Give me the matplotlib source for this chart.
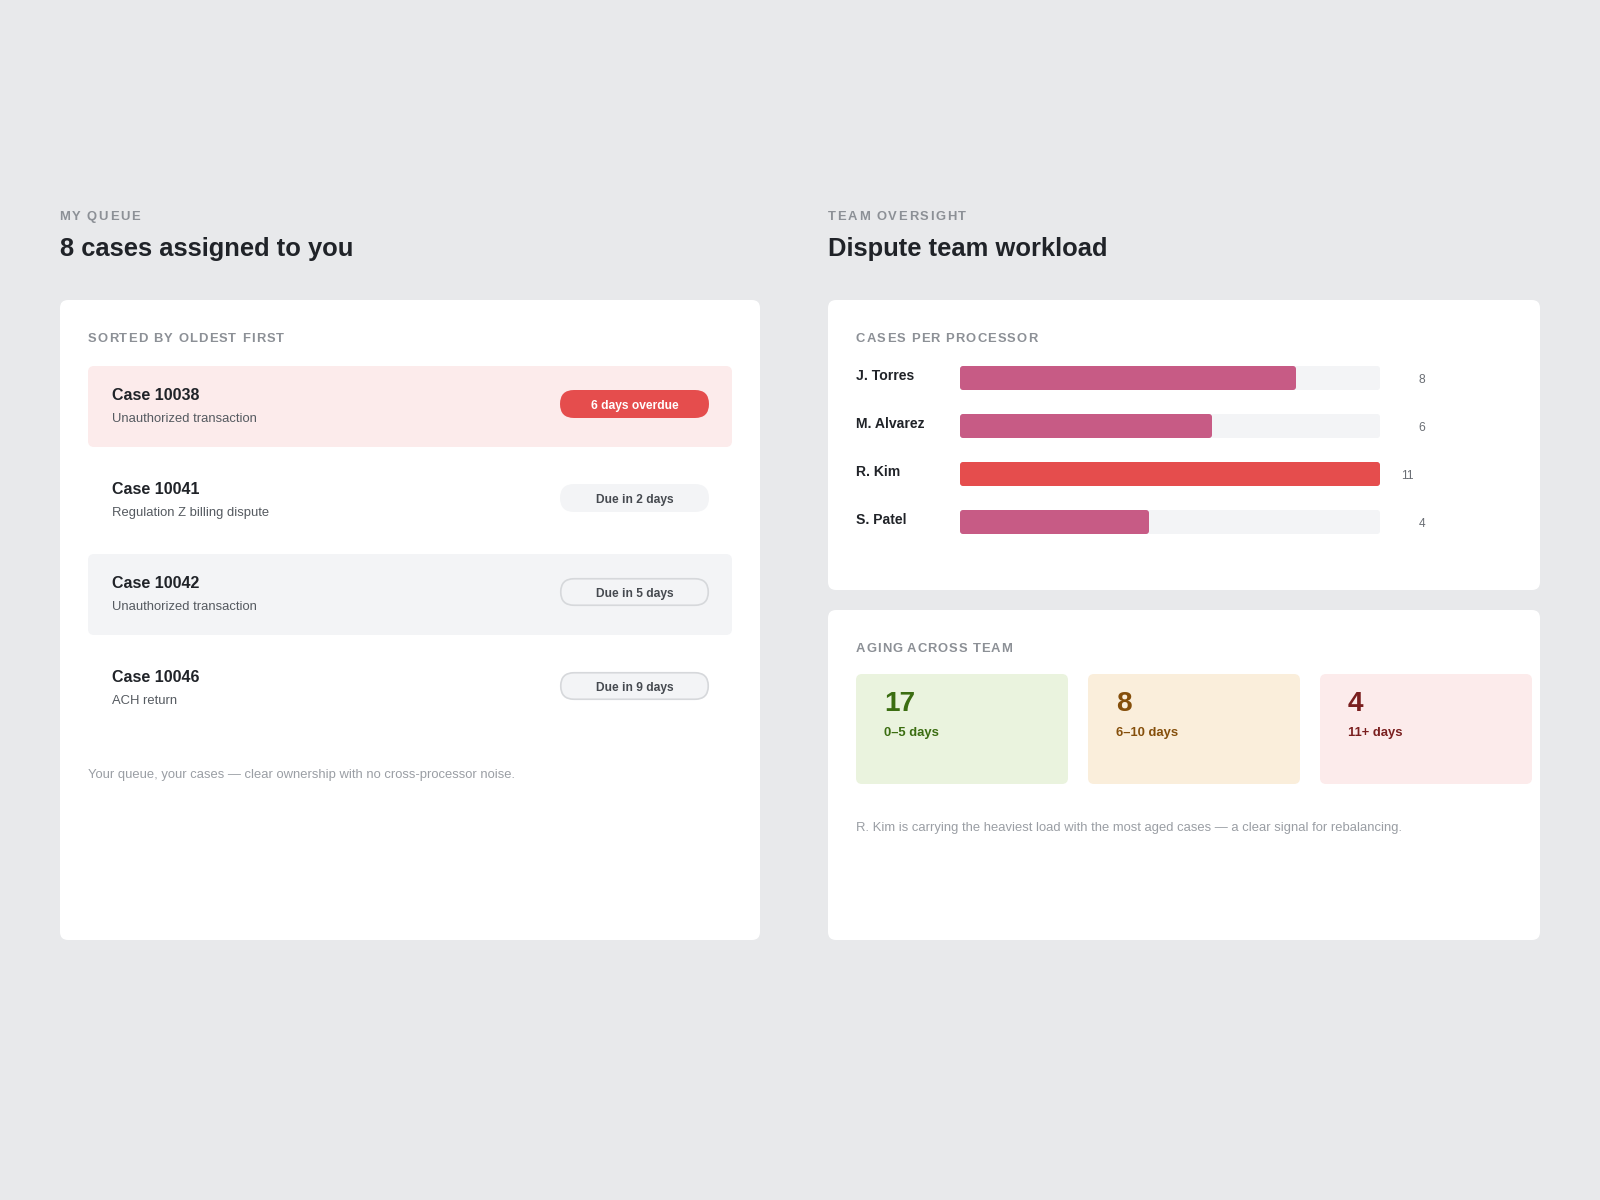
import matplotlib
matplotlib.use('Agg')
import matplotlib.pyplot as plt
from matplotlib.patches import FancyBboxPatch
from matplotlib.font_manager import FontProperties

# ---------------- data ----------------
queue_cases = ['Case 10038', 'Case 10041', 'Case 10042', 'Case 10046']
queue_types = ['Unauthorized transaction', 'Regulation Z billing dispute',
               'Unauthorized transaction', 'ACH return']
queue_due = ['6 days overdue', 'Due in 2 days', 'Due in 5 days', 'Due in 9 days']
queue_status = ['overdue', 'soon', 'normal', 'normal']

processors = ['J. Torres', 'M. Alvarez', 'R. Kim', 'S. Patel']
processor_cases = [8, 6, 11, 4]
processor_load_pct = [80, 60, 100, 45]

aging_buckets = ['0–5 days', '6–10 days', '11+ days']
aging_counts = [17, 8, 4]

# ---------------- style ----------------
FONT = 'Liberation Sans'
plt.rcParams['font.family'] = [FONT, 'DejaVu Sans']
PT = 0.72  # px -> pt at dpi 100
DY = 2     # small baseline nudge, matplotlib centres on the full bbox

BG = '#e8e9eb'
CARD = '#ffffff'
DARK = '#202328'
MUTED = '#8c9096'
SUB = '#555a60'
NOTE = '#9a9ea4'
ROW_RED = '#fcebeb'
ROW_GRAY = '#f3f4f6'
RED = '#e54d4d'
PINK = '#c75b85'
TRACK = '#f3f4f6'
tile_bg = ['#eaf3de', '#faeedb', '#fcebeb']
tile_fg = ['#3b6d11', '#854f0b', '#7a1f1f']


def rbox(ax, x, y, w, h, r, fc, ec='none', lw=0, z=1, aspect=1):
    p = FancyBboxPatch((x, y), w, h, boxstyle='round,pad=0,rounding_size=%g' % r,
                       mutation_aspect=aspect, fc=fc, ec=ec, lw=lw, zorder=z)
    ax.add_patch(p)
    return p


def txt(ax, x, y, s, px, color, bold=False, ha='left', va='center', **kw):
    return ax.text(x, y + DY, s, fontsize=px * PT, color=color, ha=ha, va=va,
                   fontweight='bold' if bold else 'normal', **kw)


def spaced(ax, x, y, s, px, color, sp, bold=True):
    # letter-spaced caps: place each glyph after measuring the prefix
    rend = fig.canvas.get_renderer()
    prop = FontProperties(family=FONT, size=px * PT, weight='bold' if bold else 'normal')

    def w(t):
        return rend.get_text_width_height_descent(t, prop, ismath=False)[0]

    for k, ch in enumerate(s):
        if ch == ' ':
            continue
        xk = x + (w(s[:k + 1]) - w(ch)) + k * sp
        txt(ax, xk, y, ch, px, color, bold=bold)


fig = plt.figure(figsize=(16, 12), dpi=100, facecolor=BG)
ax = fig.add_axes([0, 0, 1, 1])
ax.set_xlim(0, 1600)
ax.set_ylim(1200, 0)
ax.axis('off')
ax.set_facecolor(BG)

# ---------------- headers ----------------
spaced(ax, 59, 215, 'MY QUEUE', 13, MUTED, 1.7)
txt(ax, 60, 247, '8 cases assigned to you', 25.5, DARK, bold=True)
spaced(ax, 828, 215, 'TEAM OVERSIGHT', 13, MUTED, 1.65)
txt(ax, 828, 247, 'Dispute team workload', 25.5, DARK, bold=True)

# ---------------- left card: my queue ----------------
rbox(ax, 60, 300, 700, 640, 8, CARD)
spaced(ax, 88, 337, 'SORTED BY OLDEST FIRST', 13, MUTED, 1.12)

row_top = 366
row_step = 94
for i, (case, kind, due, st) in enumerate(zip(queue_cases, queue_types, queue_due, queue_status)):
    top = row_top + i * row_step
    if st == 'overdue':
        rbox(ax, 88, top, 644, 81, 6, ROW_RED, z=2)
    elif i % 2 == 0:
        rbox(ax, 88, top, 644, 81, 6, ROW_GRAY, z=2)
    txt(ax, 112, top + 27.5, case, 16, DARK, bold=True, zorder=3)
    txt(ax, 112, top + 51, kind, 13, SUB, zorder=3)
    bx, bw, bh = 560, 149, 28
    by = top + 38 - bh / 2
    if st == 'overdue':
        rbox(ax, bx, by, bw, bh, 14, RED, z=3)
        txt(ax, bx + bw / 2, top + 38, due, 12, 'white', bold=True, ha='center', zorder=4)
    elif st == 'soon':
        rbox(ax, bx, by, bw, bh, 14, ROW_GRAY, z=3)
        txt(ax, bx + bw / 2, top + 38, due, 12, '#464a50', bold=True, ha='center', zorder=4)
    else:
        rbox(ax, bx + 0.75, by + 0.75, bw - 1.5, bh - 1.5, 13.25, ROW_GRAY, ec='#d6d8db', lw=1.2, z=3)
        txt(ax, bx + bw / 2, top + 38, due, 12, '#464a50', bold=True, ha='center', zorder=4)

txt(ax, 88, 773, 'Your queue, your cases — clear ownership with no cross-processor noise.',
    13, NOTE)

# ---------------- right top card: cases per processor ----------------
rbox(ax, 828, 300, 712, 290, 8, CARD)
spaced(ax, 856, 337, 'CASES PER PROCESSOR', 13, MUTED, 1.1)

# bars in their own axes: each row is 48px, bar 24px tall, x runs 0-100 over 420px
ax_bar = fig.add_axes([960 / 1600, 1 - 546 / 1200, 420 / 1600, 192 / 1200])
ax_bar.patch.set_alpha(0)
ax_bar.set_xlim(0, 100)
ax_bar.set_ylim(len(processors) - 0.5, -0.5)
ax_bar.axis('off')
x_per_px = 100 / 420
y_per_px = 1 / 48
corner = 3 * x_per_px
asp = y_per_px / x_per_px
bar_h = 0.5
for y, name, n, p in zip(range(len(processors)), processors, processor_cases, processor_load_pct):
    rbox(ax_bar, 0, y - bar_h / 2, 100, bar_h, corner, TRACK, z=1, aspect=asp)
    rbox(ax_bar, 0, y - bar_h / 2, p, bar_h, corner, RED if p >= 100 else PINK, z=2, aspect=asp)

ytr = ax_bar.get_yaxis_transform()
for y, name, n, p in zip(range(len(processors)), processors, processor_cases, processor_load_pct):
    ax_bar.text(-104 / 420, y - 0.04, name, transform=ytr, fontsize=14 * PT,
                fontweight='bold', color=DARK, ha='left', va='center', clip_on=False)
    lx = 1.1 if p < 100 else 1.065
    ax_bar.text(lx, y + 0.05, str(n), transform=ytr, fontsize=12 * PT,
                color='#6a6e74', ha='center', va='center', clip_on=False)

# ---------------- right bottom card: aging ----------------
rbox(ax, 828, 610, 712, 330, 8, CARD)
spaced(ax, 856, 647, 'AGING ACROSS TEAM', 13, MUTED, 0.92)
tile_w, tile_gap = 212, 20
for i, (lab, cnt) in enumerate(zip(aging_buckets, aging_counts)):
    tx = 856 + i * (tile_w + tile_gap)
    rbox(ax, tx, 674, tile_w, 110, 6, tile_bg[i], z=2)
    txt(ax, tx + 28, 702, str(cnt), 28, tile_fg[i], bold=True, zorder=3)
    txt(ax, tx + 28, 731, lab, 13, tile_fg[i], bold=True, zorder=3)

txt(ax, 856, 826, 'R. Kim is carrying the heaviest load with the most aged cases — a clear signal for rebalancing.',
    13, NOTE)

fig.savefig('out.png', dpi=100, facecolor=BG)
